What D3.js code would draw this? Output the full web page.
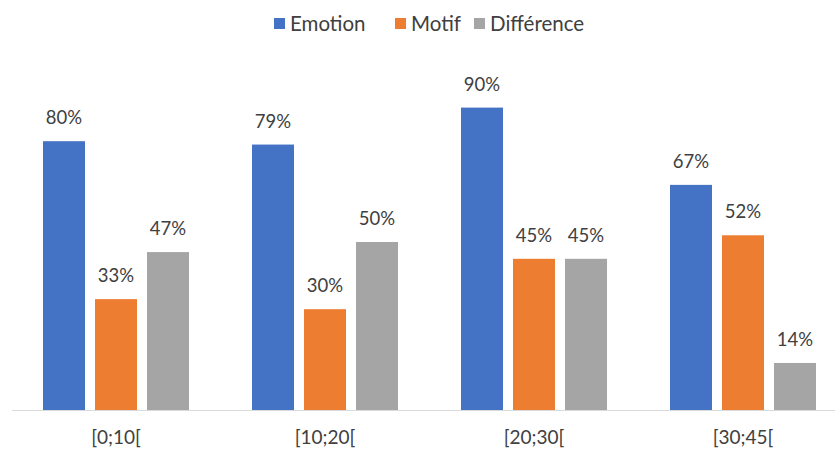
<!DOCTYPE html>
<html><head><meta charset="utf-8">
<script src="https://cdn.jsdelivr.net/npm/d3@7"></script>
<style>body{margin:0;background:#fff}svg{display:block}text{font-family:Lato,"Open Sans",sans-serif;fill:#404040}</style>
</head><body><svg id="c" width="835" height="451"></svg>
<script>
const categories = ["[0;10[", "[10;20[", "[20;30[", "[30;45["];
const seriesNames = ["Emotion", "Motif", "Différence"];
const emotion = [80, 79, 90, 67];
const motif = [33, 30, 45, 52];
const difference = [47, 50, 45, 14];
const colors = ["#4472C4", "#ED7D31", "#A5A5A5"];

const values = [emotion, motif, difference];
const svg = d3.select("#c");
const x0 = d3.scaleBand().domain(categories).range([11.5, 847.5]).paddingInner(0).paddingOuter(0);
const x1 = d3.scaleBand().domain(seriesNames).range([0, x0.bandwidth()]).paddingInner(10/52).paddingOuter((209-146)/2/52);
const y = d3.scaleLinear().domain([0, 100]).range([410, 74]);

// axis baseline
svg.append("line").attr("x1", 12).attr("x2", 835).attr("y1", 410.5).attr("y2", 410.5).attr("stroke", "#D9D9D9").attr("stroke-width", 1);

const g = svg.append("g");
categories.forEach((c, i) => {
  seriesNames.forEach((s, j) => {
    const v = values[j][i];
    const bx = x0(c) + x1(s);
    g.append("rect").attr("x", bx).attr("y", y(v)).attr("width", x1.bandwidth()).attr("height", y(0) - y(v)).attr("fill", colors[j]);
    g.append("text").attr("x", bx + x1.bandwidth()/2).attr("y", y(v) - 17).attr("text-anchor", "middle").attr("font-size", 18.5).text(v + "%");
  });
  svg.append("text").attr("x", x0(c) + x0.bandwidth()/2).attr("y", 444).attr("text-anchor", "middle").attr("font-size", 19).text(c);
});

// legend
const legX = [274, 395, 474];
seriesNames.forEach((s, j) => {
  svg.append("rect").attr("x", legX[j]).attr("y", 18).attr("width", 11).attr("height", 11).attr("fill", colors[j]);
  svg.append("text").attr("x", legX[j] + 16).attr("y", 30.5).attr("font-size", 20.5).text(s);
});
</script></body></html>
